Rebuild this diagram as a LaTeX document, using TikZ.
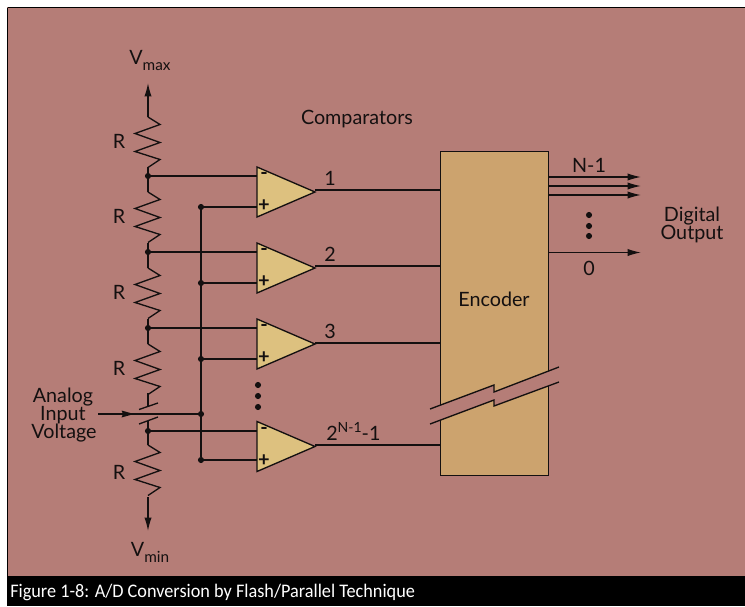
\documentclass[tikz,border=0pt]{standalone}
\usepackage{fontspec}
\setmainfont{Lato}
\newfontfamily\capfont[FakeStretch=0.95]{Carlito}
\usetikzlibrary{arrows.meta}
\definecolor{bgc}{HTML}{B57D77}
\definecolor{cmpc}{HTML}{DDC17F}
\definecolor{encc}{HTML}{CCA36E}
\definecolor{ink}{HTML}{141010}
\tikzset{
  wire/.style={draw=ink,line width=1pt,line join=miter},
  arr/.style={wire,-{Latex[length=10pt,width=5.4pt,inset=1pt]}},
  cmpbox/.style={draw=ink,line width=1pt,fill=cmpc,line join=miter},
  dot/.style={circle,fill=ink,inner sep=0pt,minimum size=4.6pt},
  lbl/.style={inner sep=0pt,text=ink,font=\fontsize{14.8}{15}\selectfont},
  sign/.style={inner sep=0pt,text=ink,font=\fontsize{15}{15}\bfseries\selectfont},
}
\newcommand{\zig}[1]{%
  \draw[wire] (148,#1) -- ++(12,7.5) -- ++(-25,9) -- ++(25,9) -- ++(-25,9) -- ++(25,8) -- ++(-12,8);}
\newcommand{\comparator}[1]{%
  \draw[cmpbox] (257,#1-25) -- (315,#1) -- (257,#1+25) -- cycle;
  \node[sign] at (264,#1-16) {-};
  \node[sign] at (264,#1+14) {+};}
\begin{document}
\begin{tikzpicture}[x=0.75pt,y=-0.75pt]
\useasboundingbox (0,0) rectangle (745,606);
\fill[white] (0,0) rectangle (745,606);
\fill[bgc] (7,7) rectangle (745,576);
\draw[black,line width=1.1pt] (7.7,7.7) -- (745,7.7) (7.7,7.7) -- (7.7,576);
\fill[black] (7,576) rectangle (745,606);
\node[anchor=west,inner sep=0pt,text=white,font=\capfont\fontsize{14.4}{14}\selectfont] (caption) at (10,592) {Figure 1-8: A/D Conversion by Flash/Parallel Technique};

% coordinates
\coordinate (top) at (148,117);
\coordinate (vmaxtip) at (148,83);
\coordinate (bot) at (148,497);
\coordinate (vmintip) at (148,531);
\node[dot] (n1) at (148,176) {};
\node[dot] (n2) at (148,252) {};
\node[dot] (n3) at (148,328) {};
\node[dot] (n4) at (148,431) {};
\node[dot] (p1) at (201,207) {};
\node[dot] (p2) at (201,283) {};
\node[dot] (p3) at (201,359) {};
\node[dot] (p0) at (201,414) {};
\node[dot] (p4) at (201,460) {};
\coordinate (in1) at (257,176);
\coordinate (in2) at (257,252);
\coordinate (in3) at (257,328);
\coordinate (in4) at (257,431);
\coordinate (ip1) at (257,207);
\coordinate (ip2) at (257,283);
\coordinate (ip3) at (257,359);
\coordinate (ip4) at (257,460);
\coordinate (ain) at (98,414);

% resistors
\draw[arr] (top) -- (vmaxtip);
\zig{117}\zig{192}\zig{268}\zig{344}\zig{445}
\draw[arr] (bot) -- (vmintip);
\draw[wire] (148,167) -- (n1) -- (148,192);
\draw[wire] (148,243) -- (n2) -- (148,268);
\draw[wire] (148,319) -- (n3) -- (148,344);
\draw[wire] (148,393) -- (148,406);
\draw[wire] (139,409.5) -- (158,403);
\draw[wire] (139,424) -- (158,417);
\draw[wire] (148,420.5) -- (n4) -- (148,445);

% analog input
\draw[wire] (ain) -- (p0);
\draw[draw=none,fill=ink] (134,414) -- (121.5,410.5) -- (123,414) -- (121.5,417.5) -- cycle;

% bus
\draw[wire] (p1) -- (p4);
\draw[wire] (n1) -- (in1);
\draw[wire] (n2) -- (in2);
\draw[wire] (n3) -- (in3);
\draw[wire] (n4) -- (in4);
\draw[wire] (p1) -- (ip1);
\draw[wire] (p2) -- (ip2);
\draw[wire] (p3) -- (ip3);
\draw[wire] (p4) -- (ip4);

% encoder
\node[draw=ink,line width=1.1pt,fill=encc,minimum width=108.5*0.75pt,minimum height=324*0.75pt,inner sep=0pt,anchor=north west] (enc) at (439.5,151) {};
\node[lbl] at (494,299) {Encoder};

% outputs of comparators
\draw[wire] (315,190) -- (439.5,190);
\draw[wire] (315,266) -- (439.5,266);
\draw[wire] (315,343) -- (439.5,343);
\draw[wire] (315,445) -- (439.5,445);
\comparator{192}\comparator{268}\comparator{344}\comparator{446.5}

% break
\fill[bgc] (430,409) -- (494,385) -- (494,392) -- (559,367) -- (559,382) -- (494,406) -- (494,400) -- (430,424) -- cycle;
\draw[wire] (430,409) -- (494,385) -- (494,392) -- (559,367);
\draw[wire] (430,424) -- (494,400) -- (494,406) -- (559,382);

% outputs
\draw[arr] (548,177) -- (641,177);
\draw[arr] (548,186) -- (641,186);
\draw[arr] (548,195) -- (641,195);
\draw[arr] (548,252.5) -- (641,252.5);

% dots
\foreach \y/\i in {385/a,396/b,407/c} \node[dot] (d\i) at (258,\y) {};
\foreach \y/\i in {215/a,226/b,236/c} \node[dot] (e\i) at (589,\y) {};

% labels
\node[lbl,anchor=base] (vmax) at (150,65) {V\raisebox{-0.6ex}{\fontsize{11.5}{12}\selectfont max}};
\node[lbl,anchor=base] (vmin) at (150,556) {V\raisebox{-0.6ex}{\fontsize{11.5}{12}\selectfont min}};
\node[lbl] at (119,141) {R};
\node[lbl] at (119,216) {R};
\node[lbl] at (119,292) {R};
\node[lbl] at (119,368) {R};
\node[lbl] at (119,472) {R};
\node[lbl] at (357,119) {Comparators};
\node[lbl] at (330,178) {1};
\node[lbl] at (330,254) {2};
\node[lbl] at (330,331) {3};
\node[lbl,anchor=base west] at (326,440) {2\raisebox{0.8ex}{\fontsize{10.5}{11}\selectfont N-1}-1};
\node[lbl] at (589,165) {N-1};
\node[lbl] at (589,268) {0};
\node[lbl,anchor=base] at (692,221) {Digital};
\node[lbl,anchor=base] at (692,239) {Output};
\node[lbl,anchor=base] at (63,402) {Analog};
\node[lbl,anchor=base] at (63,420) {Input};
\node[lbl,anchor=base] at (64,438) {Voltage};
\end{tikzpicture}
\end{document}
